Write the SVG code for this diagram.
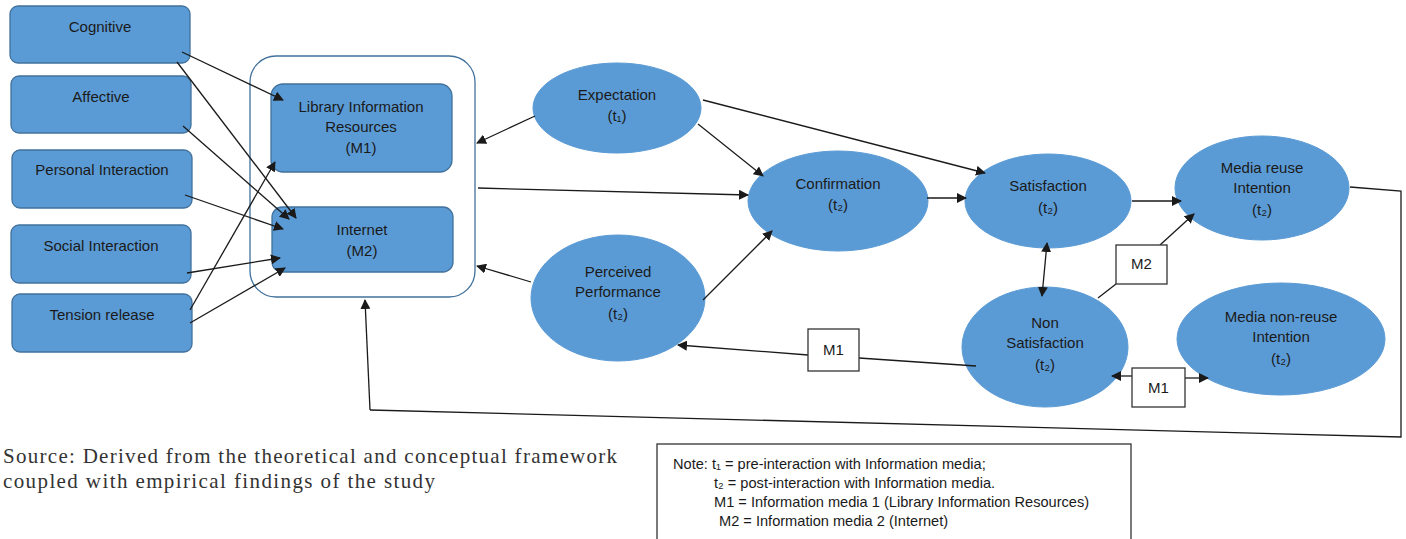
<svg xmlns="http://www.w3.org/2000/svg" width="1406" height="539" viewBox="0 0 1406 539">
<style>
.box{fill:#5B9BD5;stroke:#41719C;stroke-width:1.3}
.ell{fill:#5B9BD5;stroke:#5B9BD5;stroke-width:1}
.t{font-family:"Liberation Sans",Arial,sans-serif;font-size:15px;fill:#1a1a1a;text-anchor:middle}
.c{stroke:#1a1a1a;stroke-width:1.3;fill:none}
.a{marker-end:url(#ah)}
.mb{fill:#fff;stroke:#333;stroke-width:1.3}
.src{font-family:"Liberation Serif","Times New Roman",serif;font-size:21px;fill:#333}
.n{font-family:"Liberation Sans",Arial,sans-serif;font-size:14.6px;fill:#1a1a1a}
</style>
<defs>
<marker id="ah" viewBox="0 0 10 10" refX="9" refY="5" markerWidth="10" markerHeight="10" markerUnits="userSpaceOnUse" orient="auto">
<path d="M0,0 L10,5 L0,10 z" fill="#1a1a1a"/>
</marker>
<marker id="as" viewBox="0 0 10 10" refX="9" refY="5" markerWidth="10" markerHeight="10" markerUnits="userSpaceOnUse" orient="auto-start-reverse">
<path d="M0,0 L10,5 L0,10 z" fill="#1a1a1a"/>
</marker>
</defs>
<rect width="1406" height="539" fill="#fff"/>

<g id="container"><rect x="250" y="56" width="225" height="241" rx="26" fill="none" stroke="#41719C" stroke-width="1.3"/></g>

<g id="cognitive"><rect class="box" x="10" y="6" width="180" height="57" rx="8"/><text class="t" x="100" y="32">Cognitive</text></g>
<g id="affective"><rect class="box" x="11" y="76" width="180" height="57" rx="8"/><text class="t" x="101" y="102">Affective</text></g>
<g id="personal"><rect class="box" x="12" y="150" width="180" height="58" rx="8"/><text class="t" x="102" y="175">Personal Interaction</text></g>
<g id="social"><rect class="box" x="11" y="225" width="180" height="58" rx="8"/><text class="t" x="101" y="251">Social Interaction</text></g>
<g id="tension"><rect class="box" x="12" y="294" width="180" height="58" rx="8"/><text class="t" x="102" y="320">Tension release</text></g>

<g id="lir"><rect class="box" x="271" y="84" width="181" height="88" rx="12"/><text class="t" x="361" y="112">Library Information</text><text class="t" x="361" y="132">Resources</text><text class="t" x="361" y="153">(M1)</text></g>
<g id="internet"><rect class="box" x="272" y="207" width="181" height="65" rx="10"/><text class="t" x="362" y="235">Internet</text><text class="t" x="362" y="256">(M2)</text></g>

<g id="expectation"><ellipse class="ell" cx="617" cy="108" rx="84" ry="45"/><text class="t" x="617" y="100">Expectation</text><text class="t" x="617" y="121">(t₁)</text></g>
<g id="confirmation"><ellipse class="ell" cx="838" cy="201" rx="90" ry="50"/><text class="t" x="838" y="189">Confirmation</text><text class="t" x="838" y="210">(t₂)</text></g>
<g id="perceived"><ellipse class="ell" cx="618" cy="298" rx="87" ry="63"/><text class="t" x="618" y="277">Perceived</text><text class="t" x="618" y="297">Performance</text><text class="t" x="618" y="319">(t₂)</text></g>
<g id="satisfaction"><ellipse class="ell" cx="1048" cy="201" rx="83" ry="47"/><text class="t" x="1048" y="191">Satisfaction</text><text class="t" x="1048" y="213">(t₂)</text></g>
<g id="reuse"><ellipse class="ell" cx="1262" cy="188" rx="87" ry="52"/><text class="t" x="1262" y="173">Media reuse</text><text class="t" x="1262" y="193">Intention</text><text class="t" x="1262" y="215">(t₂)</text></g>
<g id="nonsat"><ellipse class="ell" cx="1045" cy="347" rx="83" ry="60"/><text class="t" x="1045" y="328">Non</text><text class="t" x="1045" y="348">Satisfaction</text><text class="t" x="1045" y="370">(t₂)</text></g>
<g id="nonreuse"><ellipse class="ell" cx="1281" cy="339" rx="104" ry="56"/><text class="t" x="1281" y="322">Media non-reuse</text><text class="t" x="1281" y="342">Intention</text><text class="t" x="1281" y="364">(t₂)</text></g>

<g id="connectors">
<line class="c a" x1="182" y1="52" x2="283" y2="100"/>
<line class="c a" x1="177" y1="62" x2="296" y2="218"/>
<line class="c a" x1="183" y1="126" x2="289" y2="219"/>
<line class="c a" x1="185" y1="195" x2="283" y2="229"/>
<line class="c a" x1="187" y1="273" x2="280" y2="258"/>
<line class="c a" x1="190" y1="310" x2="275" y2="162"/>
<line class="c a" x1="190" y1="323" x2="285" y2="268"/>
<line class="c a" x1="535" y1="116" x2="477" y2="143"/>
<line class="c a" x1="698" y1="124" x2="763" y2="176"/>
<line class="c a" x1="703" y1="100" x2="985" y2="173"/>
<line class="c a" x1="478" y1="188" x2="748" y2="195"/>
<line class="c a" x1="531" y1="282" x2="477" y2="266"/>
<line class="c a" x1="703" y1="300" x2="772" y2="231"/>
<line class="c a" x1="927" y1="198" x2="966" y2="198"/>
<line class="c a" x1="1132" y1="201" x2="1181" y2="201"/>
<line class="c" x1="1047" y1="243" x2="1042" y2="296" marker-start="url(#as)" marker-end="url(#ah)"/>
<polyline class="c" points="1098,298 1116,284"/>
<line class="c a" x1="1160" y1="245" x2="1194" y2="214"/>
<line class="c" x1="976" y1="366" x2="859" y2="358"/>
<line class="c a" x1="808" y1="355" x2="678" y2="345"/>
<line class="c a" x1="1132" y1="376" x2="1112" y2="376"/>
<line class="c a" x1="1185" y1="378" x2="1208" y2="378"/>
<polyline class="c" points="1350,187 1401,191 1401,437 370,410"/>
<line class="c a" x1="370" y1="410" x2="365" y2="300"/>
<g id="m2"><rect class="mb" x="1116" y="245" width="51" height="39"/><text class="t" x="1141.5" y="269">M2</text></g>
<g id="m1a"><rect class="mb" x="808" y="329" width="51" height="42"/><text class="t" x="833.5" y="355">M1</text></g>
<g id="m1b"><rect class="mb" x="1132" y="368" width="53" height="39"/><text class="t" x="1158.5" y="393">M1</text></g>
</g>

<g id="source">
<text class="src" x="3" y="463" textLength="614" lengthAdjust="spacing">Source: Derived from the theoretical and conceptual framework</text>
<text class="src" x="3" y="488" textLength="432" lengthAdjust="spacing">coupled with empirical findings of the study</text>
</g>

<g id="note">
<rect x="657" y="444" width="474" height="100" fill="#fff" stroke="#333" stroke-width="1.3"/>
<text class="n" x="673" y="469">Note: t₁ = pre-interaction with Information media;</text>
<text class="n" x="714" y="488">t₂ = post-interaction with Information media.</text>
<text class="n" x="714" y="507">M1 = Information media 1 (Library Information Resources)</text>
<text class="n" x="719" y="526">M2 = Information media 2 (Internet)</text>
</g>
</svg>
